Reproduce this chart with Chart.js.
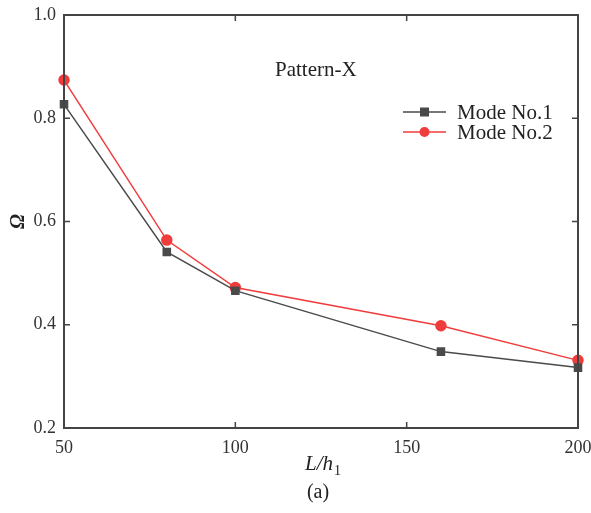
<!DOCTYPE html>
<html>
<head>
<meta charset="utf-8">
<script src="https://cdn.jsdelivr.net/npm/chart.js@4/dist/chart.umd.min.js"></script>
<style>
html,body{margin:0;padding:0;background:#fff;}
#wrap{width:591px;height:513px;}
</style>
</head>
<body>
<div id="wrap"><canvas id="c" width="591" height="513"></canvas></div>
<script>
const xValues = [50, 80, 100, 160, 200];
const mode1 = [0.827, 0.541, 0.466, 0.348, 0.317];
const mode2 = [0.874, 0.564, 0.472, 0.398, 0.331];
const seriesNames = ['Mode No.1', 'Mode No.2'];
const xTicks = [50, 100, 150, 200];
const yTicks = [0.2, 0.4, 0.6, 0.8, 1.0];
const panelLabel = '(a)';
const annotation = 'Pattern-X';

const SERIF = '"Liberation Serif", "Times New Roman", serif';
const C1 = '#4a4a4a';
const C2 = '#f03c3c';
const AXC = '#444';

const framePlugin = {
  id: 'frame',
  afterDraw(chart) {
    const ctx = chart.ctx;
    const a = chart.chartArea;
    const xs = chart.scales.x, ys = chart.scales.y;
    ctx.save();
    ctx.strokeStyle = AXC;
    ctx.lineWidth = 2;
    ctx.strokeRect(a.left, a.top, a.right - a.left, a.bottom - a.top);
    ctx.lineWidth = 1.5;
    const tl = 6;
    xTicks.forEach(v => {
      const px = xs.getPixelForValue(v);
      ctx.beginPath();
      ctx.moveTo(px, a.bottom); ctx.lineTo(px, a.bottom - tl);
      ctx.moveTo(px, a.top); ctx.lineTo(px, a.top + tl);
      ctx.stroke();
    });
    yTicks.forEach(v => {
      const py = ys.getPixelForValue(v);
      ctx.beginPath();
      ctx.moveTo(a.left, py); ctx.lineTo(a.left + tl, py);
      ctx.moveTo(a.right, py); ctx.lineTo(a.right - tl, py);
      ctx.stroke();
    });
    // x title L/h1
    ctx.fillStyle = '#222';
    ctx.textBaseline = 'alphabetic';
    ctx.textAlign = 'left';
    ctx.font = 'italic 21px ' + SERIF;
    const t1 = 'L/h';
    const w1 = ctx.measureText(t1).width;
    ctx.fillText(t1, 305, 470);
    ctx.font = '14px ' + SERIF;
    ctx.fillText('1', 305 + w1 + 1, 475);
    // panel label
    ctx.font = '20px ' + SERIF;
    ctx.textAlign = 'center';
    ctx.fillText(panelLabel, 318, 498);
    // annotation
    ctx.textAlign = 'left';
    ctx.font = '21px ' + SERIF;
    ctx.fillText(annotation, 275, 76);
    // legend
    const leg = [[C1, 'rect', 112], [C2, 'circle', 132]];
    leg.forEach((l, i) => {
      ctx.strokeStyle = l[0];
      ctx.fillStyle = l[0];
      ctx.lineWidth = 1.5;
      ctx.beginPath();
      ctx.moveTo(403, l[2]); ctx.lineTo(446, l[2]);
      ctx.stroke();
      if (l[1] === 'rect') {
        ctx.fillRect(420, l[2] - 4.5, 9, 9);
      } else {
        ctx.beginPath(); ctx.arc(424.5, l[2], 5, 0, Math.PI * 2); ctx.fill();
      }
      ctx.fillStyle = '#222';
      ctx.font = '21px ' + SERIF;
      ctx.textBaseline = 'middle';
      ctx.fillText(seriesNames[i], 457, l[2] + 1);
    });
    ctx.restore();
  }
};

new Chart(document.getElementById('c'), {
  type: 'line',
  data: {
    datasets: [
      {
        label: seriesNames[0],
        data: xValues.map((x, i) => ({x: x, y: mode1[i]})),
        borderColor: C1, backgroundColor: C1,
        borderWidth: 1.5, pointStyle: 'rect', pointRadius: 5, pointHoverRadius: 5,
        tension: 0, clip: false
      },
      {
        label: seriesNames[1],
        data: xValues.map((x, i) => ({x: x, y: mode2[i]})),
        borderColor: C2, backgroundColor: C2,
        borderWidth: 1.5, pointStyle: 'circle', pointRadius: 5, pointHoverRadius: 5,
        tension: 0, clip: false
      }
    ]
  },
  options: {
    responsive: false,
    animation: false,
    events: [],
    layout: {padding: {left: 0, top: 15, right: 13, bottom: 0}},
    plugins: {legend: {display: false}, tooltip: {enabled: false}},
    scales: {
      x: {
        type: 'linear', min: 50, max: 200,
        afterFit(s) { s.height = 85; s.paddingLeft = 0; s.paddingRight = 0; },
        afterBuildTicks(s) { s.ticks = xTicks.map(v => ({value: v})); },
        grid: {display: false, drawTicks: false},
        border: {display: false},
        ticks: {padding: 9, color: '#333', font: {family: SERIF, size: 18}, maxRotation: 0,
                callback: v => String(v)}
      },
      y: {
        type: 'linear', min: 0.2, max: 1.0,
        afterFit(s) { s.width = 64; s.paddingTop = 0; s.paddingBottom = 0; },
        afterBuildTicks(s) { s.ticks = yTicks.map(v => ({value: v})); },
        grid: {display: false, drawTicks: false},
        border: {display: false},
        ticks: {padding: 8, color: '#333', font: {family: SERIF, size: 18},
                callback: v => Number(v).toFixed(1)},
        title: {display: true, text: 'Ω', color: '#222', padding: {top: 7, bottom: 2},
                font: {family: SERIF, size: 20, style: 'italic', weight: 'bold'}}
      }
    }
  },
  plugins: [framePlugin]
});
</script>
</body>
</html>
